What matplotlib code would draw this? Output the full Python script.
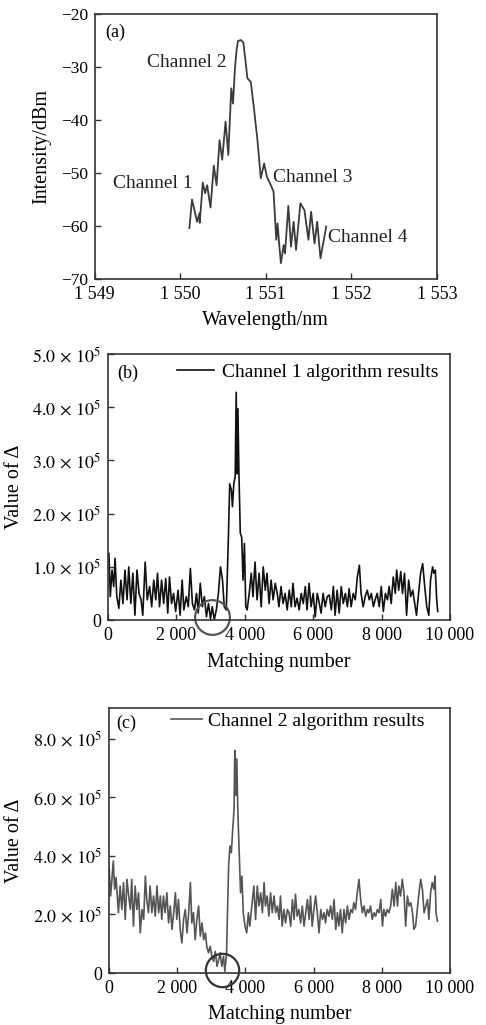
#!/usr/bin/env python3
"""Three stacked panels: optical spectrum (a) and matching-algorithm results (b), (c)."""
import matplotlib
matplotlib.use('Agg')
import matplotlib.pyplot as plt
import matplotlib.ticker as mticker

plt.rcParams['font.family'] = ['Liberation Serif', 'DejaVu Serif']
plt.rcParams['mathtext.fontset'] = 'stix'

INK = '#333333'

# ---- (a) spectrum -------------------------------------------------------
wavelength = [1550.106, 1550.137, 1550.196, 1550.224, 1550.227, 1550.263, 1550.290,
              1550.314, 1550.353, 1550.392, 1550.424, 1550.459, 1550.490, 1550.529,
              1550.561, 1550.596, 1550.616, 1550.640, 1550.660, 1550.675, 1550.706,
              1550.737, 1550.760, 1550.784, 1550.824, 1550.863, 1550.902, 1550.941,
              1550.980, 1551.012, 1551.059, 1551.090, 1551.122, 1551.137, 1551.157,
              1551.176, 1551.208, 1551.224, 1551.263, 1551.294, 1551.325, 1551.353,
              1551.404, 1551.451, 1551.498, 1551.529, 1551.569, 1551.600, 1551.639,
              1551.667, 1551.706]
intensity = [-60.4, -55.0, -59.2, -57.6, -59.4, -51.8, -53.8,
             -52.3, -56.5, -48.6, -52.3, -43.8, -47.5, -40.3,
             -46.6, -34.0, -36.9, -30.0, -26.5, -25.1, -24.9,
             -25.4, -28.5, -32.1, -32.8, -38.1, -43.8, -51.0,
             -48.2, -50.7, -52.3, -53.5, -62.6, -59.5, -63.6,
             -67.0, -63.6, -65.2, -56.2, -63.9, -59.2, -64.5,
             -55.7, -57.0, -62.6, -57.3, -63.3, -59.2, -66.1,
             -63.6, -60.1]
channel_labels = ['Channel 1', 'Channel 2', 'Channel 3', 'Channel 4']
channel_pos = [(1549.21, -51.9), (1549.61, -29.1), (1551.08, -50.9), (1551.73, -62.1)]

# ---- (b) channel 1 algorithm results ------------------------------------
match_b = [30, 70, 120, 170, 210, 260, 320, 380, 440, 500, 560, 610, 670, 730, 790,
           850, 910, 970, 1020, 1090, 1150, 1220, 1280, 1340, 1400, 1450, 1510, 1570,
           1630, 1690, 1750, 1800, 1860, 1920, 1980, 2050, 2110, 2170, 2220, 2290,
           2350, 2410, 2470, 2530, 2590, 2640, 2700, 2760, 2820, 2880, 2940, 3000,
           3050, 3110, 3170, 3230, 3290, 3350, 3400, 3460, 3520, 3560, 3610, 3640,
           3680, 3720, 3750, 3780, 3800, 3830, 3870, 3910, 3950, 3990, 4030, 4070,
           4130, 4190, 4240, 4300, 4360, 4420, 4480, 4540, 4600, 4650, 4710, 4770,
           4830, 4890, 4950, 5000, 5060, 5120, 5180, 5240, 5300, 5360, 5410, 5470,
           5530, 5590, 5650, 5710, 5770, 5820, 5880, 5940, 6000, 6060, 6120, 6180,
           6230, 6290, 6350, 6410, 6470, 6530, 6590, 6640, 6700, 6760, 6820, 6880,
           6940, 7000, 7050, 7110, 7170, 7230, 7290, 7350, 7400, 7460, 7520, 7580,
           7640, 7700, 7760, 7810, 7870, 7930, 7990, 8050, 8110, 8170, 8220, 8280,
           8340, 8400, 8440, 8500, 8560, 8610, 8670, 8730, 8790, 8850, 8910, 8970,
           9020, 9080, 9140, 9200, 9260, 9320, 9380, 9430, 9490, 9530, 9570, 9610,
           9640]
delta_b = [1.25, 0.44, 0.94, 0.63, 1.16, 0.44, 0.22, 0.75, 0.31, 0.94, 0.38, 1.00, 0.31,
           0.88, 0.09, 0.94, 0.50, 0.38, 0.09, 1.09, 0.38, 0.63, 0.25, 0.75, 0.38, 0.88,
           0.25, 0.75, 0.31, 0.78, 0.13, 0.81, 0.31, 0.50, 0.16, 0.56, 0.09, 0.75, 0.19,
           0.44, 0.25, 0.97, 0.31, 0.19, 0.50, 0.13, 0.69, 0.25, 0.44, 0.06, 0.31, 0.02,
           0.25, 0.01, 0.19, 0.50, 1.00, 0.75, 0.25, 0.19, 1.50, 2.56, 2.44, 2.13, 2.56,
           2.69, 4.28, 2.75, 3.97, 2.75, 1.63, 1.56, 0.75, 1.44, 0.25, 0.19, 0.50, 0.88,
           0.44, 1.09, 0.38, 0.88, 0.25, 1.00, 0.56, 0.88, 0.31, 0.75, 0.38, 0.69, 0.50,
           0.25, 0.63, 0.31, 0.50, 0.19, 0.56, 0.25, 0.69, 0.25, 0.41, 0.19, 0.50, 0.31,
           0.63, 0.19, 0.69, 0.25, 0.50, 0.06, 0.50, 0.31, 0.13, 0.50, 0.25, 0.44, 0.47,
           0.19, 0.63, 0.09, 0.56, 0.13, 0.63, 0.31, 0.50, 0.25, 0.59, 0.25, 0.50, 0.38,
           0.81, 1.03, 0.50, 0.25, 0.44, 0.56, 0.38, 0.50, 0.25, 0.38, 0.50, 0.25, 0.63,
           0.16, 0.50, 0.38, 0.63, 0.31, 0.81, 0.50, 0.94, 0.56, 0.91, 0.50, 0.88, 0.09,
           0.75, 0.44, 0.56, 0.31, 0.09, 0.50, 0.88, 1.06, 0.63, 0.25, 0.09, 0.75, 1.00,
           0.88, 0.94, 0.38, 0.16]

# ---- (c) channel 2 algorithm results ------------------------------------
match_c = [10, 50, 90, 130, 170, 210, 240, 280, 330, 380, 430, 480, 530, 580, 630,
           670, 720, 770, 820, 870, 920, 970, 1020, 1070, 1110, 1160, 1210, 1260, 1310,
           1360, 1410, 1460, 1510, 1550, 1600, 1650, 1700, 1750, 1800, 1850, 1900, 1950,
           1990, 2040, 2090, 2140, 2190, 2240, 2290, 2340, 2390, 2430, 2480, 2530, 2580,
           2630, 2680, 2730, 2780, 2830, 2870, 2920, 2970, 3020, 3070, 3120, 3170, 3220,
           3260, 3310, 3360, 3400, 3450, 3510, 3550, 3590, 3630, 3670, 3690, 3720, 3750,
           3780, 3820, 3860, 3900, 3940, 3990, 4040, 4090, 4130, 4190, 4250, 4300, 4350,
           4400, 4450, 4500, 4550, 4590, 4640, 4690, 4740, 4790, 4840, 4890, 4940, 4990,
           5030, 5080, 5130, 5180, 5230, 5280, 5330, 5380, 5430, 5470, 5520, 5570, 5620,
           5670, 5720, 5770, 5820, 5870, 5910, 5960, 6010, 6060, 6110, 6160, 6210, 6260,
           6310, 6350, 6400, 6450, 6500, 6550, 6600, 6650, 6700, 6740, 6790, 6840, 6890,
           6940, 6990, 7040, 7090, 7140, 7180, 7230, 7280, 7330, 7380, 7430, 7480, 7530,
           7580, 7620, 7670, 7720, 7770, 7820, 7870, 7920, 7970, 8020, 8060, 8110, 8160,
           8210, 8260, 8310, 8360, 8410, 8460, 8500, 8550, 8600, 8650, 8700, 8750, 8800,
           8850, 8900, 8940, 8990, 9040, 9090, 9140, 9190, 9240, 9290, 9340, 9380, 9430,
           9480, 9530, 9560, 9590, 9630]
delta_c = [3.54, 2.63, 3.20, 3.83, 2.86, 3.26, 2.74, 2.06, 2.97, 2.17, 3.09, 1.83, 3.20,
           2.63, 2.17, 3.20, 1.60, 2.97, 2.17, 2.74, 1.37, 2.17, 1.83, 3.31, 2.51, 2.06,
           2.97, 2.06, 2.63, 1.94, 2.97, 2.06, 2.63, 1.83, 2.63, 2.06, 2.74, 1.71, 2.29,
           1.49, 2.06, 2.74, 1.83, 2.51, 1.49, 1.03, 1.83, 2.17, 1.37, 2.06, 3.09, 1.71,
           2.06, 1.14, 1.83, 2.29, 1.26, 1.71, 1.14, 1.37, 0.91, 0.69, 0.91, 0.57, 0.40,
           0.74, 0.23, 0.46, 0.69, 0.23, 0.57, 0.06, 0.69, 3.66, 4.34, 4.11, 4.91, 5.60,
           7.60, 6.06, 7.31, 5.54, 4.11, 2.74, 3.31, 2.06, 1.60, 1.37, 2.06, 1.60, 2.29,
           2.97, 1.83, 2.97, 2.29, 2.74, 2.06, 3.09, 2.29, 2.63, 1.94, 2.74, 2.06, 2.63,
           2.06, 2.29, 1.83, 2.63, 1.60, 2.17, 1.71, 2.17, 2.06, 1.60, 2.51, 1.83, 2.69,
           1.94, 2.17, 1.71, 2.29, 1.60, 2.06, 2.51, 1.83, 2.63, 1.60, 2.17, 2.63, 2.06,
           1.37, 2.17, 1.83, 2.06, 1.71, 2.17, 1.94, 2.29, 1.83, 2.51, 1.49, 2.06, 1.60,
           2.17, 1.37, 2.17, 1.71, 2.29, 1.83, 2.17, 2.06, 2.40, 2.17, 2.74, 3.20, 2.51,
           2.06, 2.29, 1.94, 2.17, 2.06, 2.29, 1.83, 2.06, 1.94, 2.17, 2.06, 2.51, 1.60,
           2.17, 1.94, 2.17, 2.06, 2.29, 2.86, 2.29, 3.09, 2.29, 2.97, 2.63, 3.20, 2.74,
           1.60, 2.63, 2.29, 2.40, 2.06, 1.49, 1.60, 2.17, 2.74, 3.20, 2.86, 2.06, 2.29,
           2.51, 1.83, 2.74, 3.09, 2.86, 3.31, 2.06, 1.77]

circle_b = (3050, 0.06e5)
circle_c = (3330, 0.11e5)


def style_axes(ax):
    for sp in ax.spines.values():
        sp.set_color(INK)
        sp.set_linewidth(1.2)
    ax.tick_params(direction='in', length=4, width=1, color=INK, top=False, right=False,
                   labelsize=13, pad=5)


def thousands(v, _):
    return f'{int(round(v)):,}'.replace(',', ' ')


def sci5(v, _):
    if abs(v) < 1:
        return '0'
    return rf'${v / 1e5:.1f}\,\times\,10^{{5}}$'


fig = plt.figure(figsize=(4.86, 10.25), dpi=100)

# (a)
ax = fig.add_axes([0.195, 0.7278, 0.704, 0.2585])
ax.plot(wavelength, intensity, color='#3c3c3c', lw=1.3)
for lab, (x, y) in zip(channel_labels, channel_pos):
    ax.text(x, y, lab, fontsize=14, ha='left', va='center', color='#222')
ax.text(0.032, 0.932, '(a)', transform=ax.transAxes, fontsize=13, va='center')
ax.set_xlim(1549, 1553)
ax.set_ylim(-70, -20)
ax.set_xticks([1549, 1550, 1551, 1552, 1553])
ax.set_yticks([-70, -60, -50, -40, -30, -20])
ax.xaxis.set_major_formatter(mticker.FuncFormatter(thousands))
style_axes(ax)
ax.tick_params(axis='y', labelsize=12.5)
ax.set_xlabel('Wavelength/nm', fontsize=14.5)
ax.set_ylabel('Intensity/dBm', fontsize=14.5)
ax.xaxis.label.set_va('center')
ax.yaxis.label.set_va('center')
ax.xaxis.set_label_coords(0.5, -0.155)
ax.yaxis.set_label_coords(-0.155, 0.5)

# (b)
ax = fig.add_axes([0.222, 0.3951, 0.704, 0.2595])
ax.plot(match_b, [v * 1e5 for v in delta_b], color='#111111', lw=1.2,
        label='Channel 1 algorithm results')
ax.plot(*circle_b, 'o', ms=25, mfc='none', mec='#555555', mew=1.6, clip_on=False)
ax.text(0.026, 0.929, '(b)', transform=ax.transAxes, fontsize=13, va='center')
ax.set_xlim(0, 10000)
ax.set_ylim(0, 5e5)
ax.set_xticks(range(0, 10001, 2000))
ax.set_yticks([0, 1e5, 2e5, 3e5, 4e5, 5e5])
ax.xaxis.set_major_formatter(mticker.FuncFormatter(thousands))
ax.yaxis.set_major_formatter(mticker.FuncFormatter(sci5))
style_axes(ax)
ax.legend(loc='upper right', bbox_to_anchor=(0.965, 0.965), frameon=False, fontsize=14,
          borderpad=0, borderaxespad=0, handlelength=1.9, handletextpad=0.4)
ax.set_xlabel('Matching number', fontsize=14.5)
ax.set_ylabel('Value of Δ', fontsize=14.5)
ax.xaxis.label.set_va('center')
ax.yaxis.label.set_va('center')
ax.xaxis.set_label_coords(0.5, -0.158)
ax.yaxis.set_label_coords(-0.272, 0.5)

# (c)
ax = fig.add_axes([0.224, 0.0507, 0.702, 0.2586])
ax.plot(match_c, [v * 1e5 for v in delta_c], color='#555555', lw=1.2,
        label='Channel 2 algorithm results')
ax.plot(*circle_c, 'o', ms=24, mfc='none', mec='#333333', mew=1.6, clip_on=False)
ax.text(0.023, 0.943, '(c)', transform=ax.transAxes, fontsize=13, va='center')
ax.set_xlim(0, 10000)
ax.set_ylim(0, 9.05e5)
ax.set_xticks(range(0, 10001, 2000))
ax.set_yticks([0, 2e5, 4e5, 6e5, 8e5])
ax.xaxis.set_major_formatter(mticker.FuncFormatter(thousands))
ax.yaxis.set_major_formatter(mticker.FuncFormatter(sci5))
style_axes(ax)
ax.legend(loc='upper right', bbox_to_anchor=(0.925, 0.985), frameon=False, fontsize=14,
          borderpad=0, borderaxespad=0, handlelength=1.6, handletextpad=0.3)
ax.set_xlabel('Matching number', fontsize=14.5)
ax.set_ylabel('Value of Δ', fontsize=14.5)
ax.xaxis.label.set_va('center')
ax.yaxis.label.set_va('center')
ax.xaxis.set_label_coords(0.5, -0.158)
ax.yaxis.set_label_coords(-0.276, 0.5)

fig.savefig('out.png', dpi=100)
plt.close(fig)
